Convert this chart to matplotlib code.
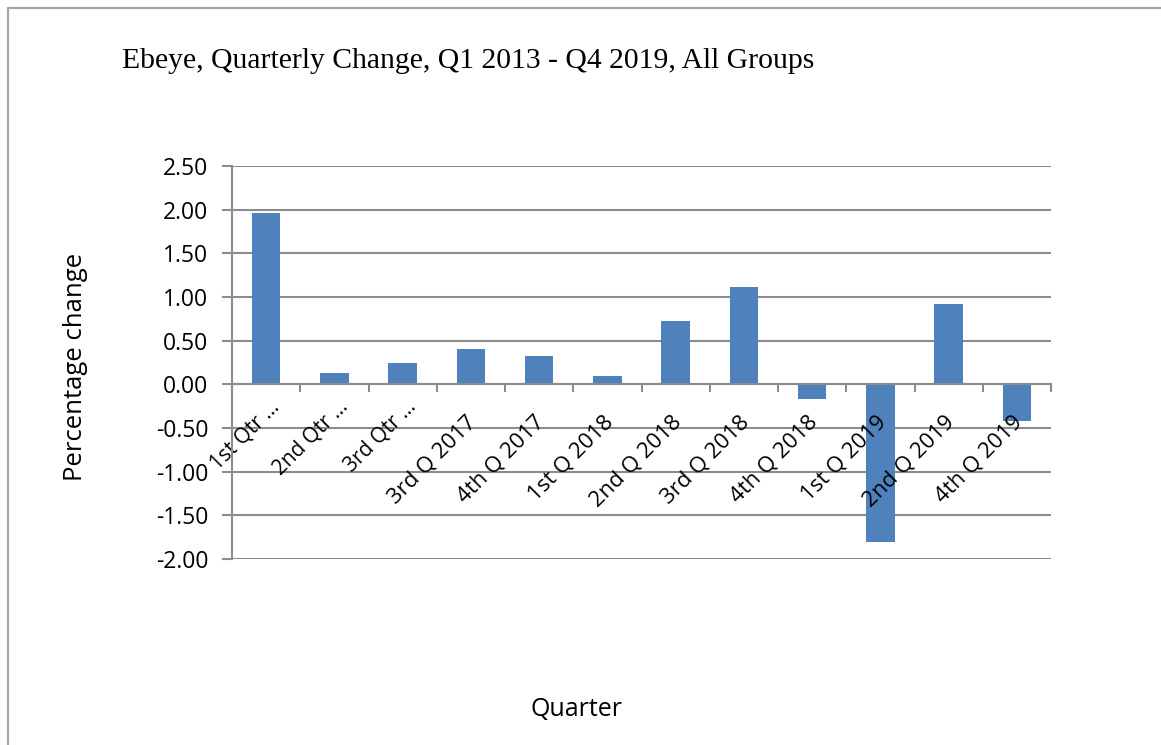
import numpy as np
import matplotlib.pyplot as plt
from matplotlib.patches import Rectangle

quarters = ["1st Qtr \u2026", "2nd Qtr \u2026", "3rd Qtr \u2026", "3rd Q 2017", "4th Q 2017",
            "1st Q 2018", "2nd Q 2018", "3rd Q 2018", "4th Q 2018", "1st Q 2019",
            "2nd Q 2019", "4th Q 2019"]
pct_change = [1.96, 0.13, 0.25, 0.40, 0.33, 0.10, 0.73, 1.11, -0.17, -1.80, 0.92, -0.42]
y_ticks = [-2.0, -1.5, -1.0, -0.5, 0.0, 0.5, 1.0, 1.5, 2.0, 2.5]

W, H = 1161, 745
fig = plt.figure(figsize=(W / 100, H / 100), dpi=100)
sans = "Open Sans"
grey = "#8c8c8c"

# outer chart frame (Excel style)
fig.patches.append(Rectangle((8 / W, -0.1), 1.2, 1 - 8 / H + 0.1, transform=fig.transFigure,
                             fill=False, edgecolor="#a6a6a6", linewidth=1.6))

ax = fig.add_axes([232 / W, 1 - 559 / H, (1051 - 232) / W, (559 - 166) / H])
x = np.arange(len(quarters))
ax.bar(x, pct_change, width=0.42, color="#4F81BD", zorder=3)

ax.set_xlim(-0.5, len(quarters) - 0.5)
ax.set_ylim(-2.0, 2.5)
ax.set_yticks(y_ticks)
ax.set_yticklabels([f"{v:.2f}" for v in y_ticks], fontsize=16.5, fontfamily=sans)
ax.yaxis.grid(True, color=grey, linewidth=1.5, zorder=0)
ax.tick_params(axis="y", length=7, width=1.5, color=grey, pad=10)

# category axis sits at zero, ticks between categories
ax.spines["bottom"].set_position(("data", 0))
ax.set_xticks(np.arange(-0.5, len(quarters), 1))
ax.set_xticklabels([])
ax.tick_params(axis="x", direction="out", length=6, width=1.5, color=grey)
for s in ["top", "right"]:
    ax.spines[s].set_visible(False)
for s in ["left", "bottom"]:
    ax.spines[s].set_color(grey)
    ax.spines[s].set_linewidth(1.5)
    ax.spines[s].set_zorder(4)

for xi, lab in zip(x, quarters):
    # truncated labels sit a little higher, as Excel draws them
    if lab.endswith("\u2026"):
        off, fs = (3, -12), 15
    else:
        off, fs = (-5, -27), 16
    ax.annotate(lab, xy=(xi, 0), xytext=off, textcoords="offset pixels",
                rotation=45, ha="right", va="top", rotation_mode="anchor",
                fontsize=fs, fontfamily=sans, color="black")

fig.text(122 / W, 1 - 68 / H, "Ebeye, Quarterly Change, Q1 2013 - Q4 2019, All Groups",
         fontfamily="Liberation Serif", fontsize=21.3, ha="left", va="baseline")
fig.text(75 / W, 1 - 367 / H, "Percentage change", rotation=90, ha="center", va="center",
         fontfamily=sans, fontsize=18.5)
fig.text(576 / W, 1 - 710 / H, "Quarter", ha="center", va="center",
         fontfamily=sans, fontsize=18)

fig.savefig("out.png", dpi=100)
